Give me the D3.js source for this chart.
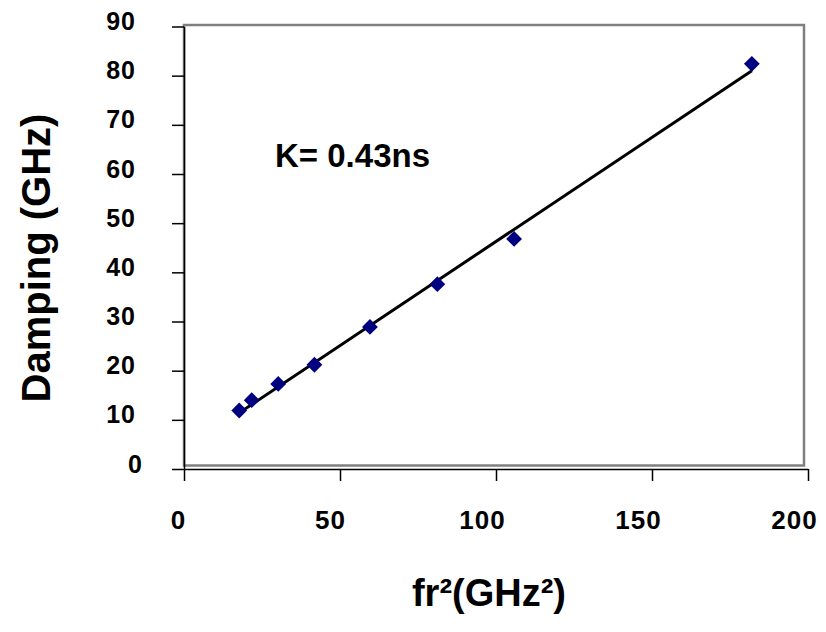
<!DOCTYPE html>
<html>
<head>
<meta charset="utf-8">
<script src="https://cdn.jsdelivr.net/npm/d3@7"></script>
<style>
	body { margin: 0; background: #fff; }
	svg { font-family: "Liberation Sans", Arial, sans-serif; font-weight: bold; }
</style>
</head>
<body>
<svg id="chart" width="826" height="632"></svg>
<script>

// measured points: fr^2 (GHz^2) vs damping (GHz)
var frSquared = [17.7, 21.7, 30.2, 41.8, 59.6, 81.2, 105.8, 182.0];
var damping = [11.9, 14.0, 17.3, 21.2, 28.9, 37.6, 46.8, 82.4];

var xTicks = [0, 50, 100, 150, 200];
var yTicks = [0, 10, 20, 30, 40, 50, 60, 70, 80, 90];
var kLabel = "K= 0.43ns";

var svg = d3.select("#chart");

var x = d3.scaleLinear().domain([0, 200]).range([184, 808]);
var y = d3.scaleLinear().domain([0, 90]).range([469, 26.5]);

// plot area border (grey, excel style)
svg.append("rect")
	.attr("x", 184)
	.attr("y", 25)
	.attr("width", 620)
	.attr("height", 440.5)
	.attr("fill", "none")
	.attr("stroke", "#808080")
	.attr("stroke-width", 2.5);

// y axis
var yAxis = svg.append("g")
	.attr("transform", "translate(" + x(0) + ",0)")
	.call(d3.axisLeft(y).tickValues(yTicks).tickSize(12).tickSizeOuter(0).tickPadding(36));
yAxis.select(".domain").attr("stroke", "#000").attr("stroke-width", 1.5);
yAxis.selectAll(".tick line").attr("stroke", "#000").attr("stroke-width", 1.5);
yAxis.selectAll(".tick text")
	.attr("y", -5)
	.attr("dx", function(d) { return String(d).length == 1 ? 7 : 0; })  // excel nudges the lone 0
	.attr("fill", "#000")
	.style("font-size", "25px")
	.style("letter-spacing", "1px")
	.style("font-family", "'Liberation Sans', Arial, sans-serif");

// x axis
var xAxis = svg.append("g")
	.attr("transform", "translate(0," + y(0) + ")")
	.call(d3.axisBottom(x).tickValues(xTicks).tickSize(12).tickSizeOuter(0).tickPadding(30));
xAxis.select(".domain").attr("stroke", "#000").attr("stroke-width", 1.5);
xAxis.selectAll(".tick line").attr("stroke", "#000").attr("stroke-width", 1.5);
xAxis.selectAll(".tick text")
	.attr("dx", function(d) { return -(2 + 4 * String(d).length); })
	.attr("fill", "#000")
	.style("font-size", "26px")
	.style("letter-spacing", "1px")
	.style("font-family", "'Liberation Sans', Arial, sans-serif");

// linear trendline through the points
var pts = frSquared.map(function(v, i) { return [v, damping[i]]; });
var mx = d3.mean(frSquared), my = d3.mean(damping);
var sxy = d3.sum(pts, function(p) { return (p[0] - mx) * (p[1] - my); });
var sxx = d3.sum(pts, function(p) { return (p[0] - mx) * (p[0] - mx); });
var slope = sxy / sxx, icpt = my - slope * mx;
var xr = d3.extent(frSquared);

svg.append("line")
	.attr("x1", x(xr[0])).attr("y1", y(icpt + slope * xr[0]))
	.attr("x2", x(xr[1])).attr("y2", y(icpt + slope * xr[1]))
	.attr("stroke", "#000")
	.attr("stroke-width", 3);

// diamond markers
svg.append("g").selectAll("path")
	.data(pts)
	.enter()
	.append("path")
	.attr("d", d3.symbol().type(d3.symbolSquare).size(125))
	.attr("transform", function(d) {
		return "translate(" + x(d[0]) + "," + y(d[1]) + ") rotate(45)";
	})
	.attr("fill", "#000080");

// annotation
svg.append("text")
	.attr("x", 275)
	.attr("y", 167)
	.style("font-size", "33px")
	.text(kLabel);

// axis titles
svg.append("text")
	.attr("x", 489)
	.attr("y", 606)
	.attr("text-anchor", "middle")
	.style("font-size", "38px")
	.text("fr²(GHz²)");

svg.append("text")
	.attr("transform", "translate(50,258) rotate(-90)")
	.attr("text-anchor", "middle")
	.style("font-size", "40px")
	.text("Damping (GHz)");

</script>
</body>
</html>
